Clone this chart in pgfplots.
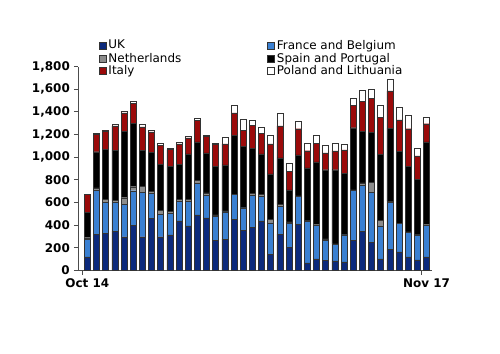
\documentclass[border=0pt]{standalone}
\usepackage{pgfplots}
\usepackage{pgfplotstable}
\pgfplotsset{compat=1.18}
\usepackage{fontspec}
\setmainfont{DejaVu Sans}
\definecolor{ukc}{HTML}{0C2A7C}
\definecolor{frc}{HTML}{3A80D2}
\definecolor{nlc}{HTML}{8C8C8C}
\definecolor{esc}{HTML}{000000}
\definecolor{itc}{HTML}{9A0A0A}
\definecolor{plc}{HTML}{FFFFFF}
\pgfplotstableread{
x uk fr nl es it pl
0 120 157 12 225 155 0
1 321 386 23 318 155 5
2 330 274 21 441 166 5
3 347 257 12 447 213 15
4 298 283 61 587 161 15
5 397 307 35 557 179 17
6 298 394 50 321 204 21
7 461 222 15 344 182 14
8 298 198 35 403 170 17
9 315 187 21 394 149 14
10 438 175 15 309 181 18
11 394 216 18 400 143 14
12 490 282 22 342 190 17
13 464 202 20 351 149 11
14 269 210 12 426 198 6
15 277 240 10 404 187 59
16 453 216 4 519 199 70
17 356 196 4 540 140 103
18 380 283 17 397 202 50
19 438 219 15 356 181 55
20 143 277 30 403 265 73
21 321 248 12 412 283 111
22 204 211 14 283 161 76
23 406 248 4 362 231 67
24 67 368 9 461 152 70
25 102 298 4 555 163 73
26 91 176 11 611 149 64
27 85 146 4 654 166 64
28 76 239 4 541 204 50
29 269 438 4 549 195 67
30 345 408 21 452 269 99
31 248 444 88 441 297 82
32 102 292 50 578 327 108
33 184 415 11 646 330 99
34 164 251 4 630 281 111
35 120 216 4 581 330 122
36 93 219 4 491 204 70
37 120 280 4 730 161 61
}\datatable
\begin{document}
\fontsize{12}{14}\selectfont
\begin{tikzpicture}
\useasboundingbox (-78bp,-83.5bp) rectangle (422bp,270.5bp);
\begin{axis}[
  width=354bp, height=204bp, scale only axis,
  ybar stacked, bar width=6bp,
  xmin=-1.02, xmax=37.6, ymin=0, ymax=1800,
  axis x line=bottom, axis y line=left,
  axis line style={-, draw=black!70, line width=0.9pt},
  every tick/.style={draw=black!70, line width=0.9pt},
  tick align=outside, major tick length=4bp,
  ytick={0,200,...,1800},
  xtick={-0.5,36.5}, xticklabels={},
  extra x ticks={0,37}, extra x tick labels={Oct 14,Nov 17},
  extra x tick style={tick style={draw=none}},
  tick label style={font=\fontsize{12}{14}\selectfont\bfseries},
  /pgf/number format/assume math mode=true,
  /pgf/number format/1000 sep={,},
  legend columns=2,
  legend cell align=left,
  legend style={draw=none, fill=none, at={(axis description cs:0.05,1.15)}, anchor=north west,
    font=\fontsize{12}{14}\selectfont, row sep=-2bp,
    /tikz/column 2/.style={column sep=84bp}},
  legend image code/.code={\draw[#1,line width=0.6pt] (0bp,-3.5bp) rectangle (7bp,3.5bp);},
  every axis plot/.append style={draw=black!80, line width=0.4pt},
]
\addplot[fill=ukc] table[x=x,y=uk]{\datatable};
\addplot[fill=frc] table[x=x,y=fr]{\datatable};
\addplot[fill=nlc] table[x=x,y=nl]{\datatable};
\addplot[fill=esc] table[x=x,y=es]{\datatable};
\addplot[fill=itc] table[x=x,y=it]{\datatable};
\addplot[fill=plc] table[x=x,y=pl]{\datatable};
\legend{UK,France and Belgium,Netherlands,Spain and Portugal,Italy,Poland and Lithuania}
\end{axis}
\end{tikzpicture}
\end{document}
